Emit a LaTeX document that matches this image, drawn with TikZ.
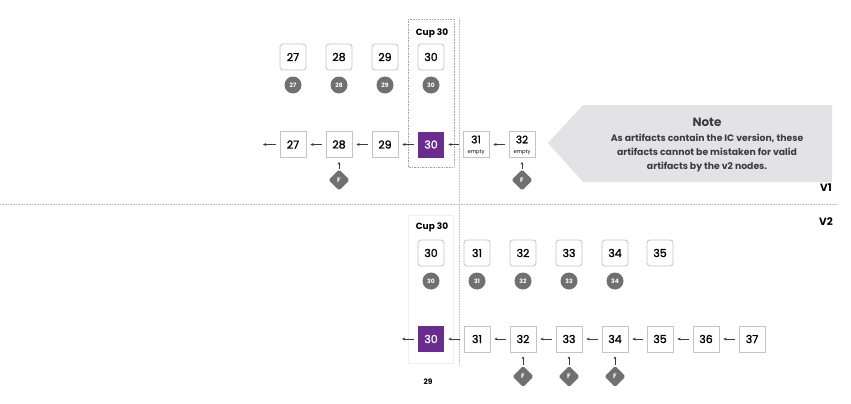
\documentclass[tikz,border=0pt]{standalone}
\usepackage{fontspec}
\setmainfont{Poppins}
\newfontfamily\medfont[FakeBold=1.3]{Poppins}
\usetikzlibrary{arrows.meta,shapes.geometric}
\definecolor{boxline}{HTML}{C4C4C4}
\definecolor{cupviolet}{HTML}{6A2C8E}
\definecolor{chipgray}{HTML}{707070}
\definecolor{notegray}{HTML}{E3E3E7}
\definecolor{inkgray}{HTML}{3C3C3C}
\tikzset{
  numbox/.style={draw=boxline, line width=0.8pt, fill=white, minimum width=26pt, minimum height=26pt, inner sep=0pt, font=\medfont\fontsize{11}{13}\selectfont, text=black},
  rbox/.style={numbox, rounded corners=3pt},
  purplebox/.style={numbox, draw=none, fill=cupviolet, text=white},
  chip/.style={circle, fill=chipgray, minimum size=17pt, inner sep=0pt, text=white, font=\fontsize{6}{6}\selectfont\bfseries},
  fdia/.style={diamond, fill=chipgray, minimum width=21pt, minimum height=21pt, inner sep=0pt, outer sep=0pt, rounded corners=1.5pt, text=white, font=\fontsize{6.5}{7}\selectfont\bfseries},
  arr/.style={-{Stealth[length=3.2pt,width=3pt]}, line width=0.7pt, draw=inkgray, shorten >=4pt, shorten <=4pt},
  farr/.style={-{Stealth[length=2.8pt,width=2.8pt]}, line width=0.6pt, draw=inkgray, shorten >=4pt, shorten <=1pt},
  dotline/.style={draw=gray!55, line width=0.7pt, dash pattern=on 0.8pt off 0.8pt},
  headlbl/.style={font=\fontsize{9}{11}\selectfont\bfseries, text=black},
}
\begin{document}
\begin{tikzpicture}[x=1pt,y=-1pt]
\useasboundingbox (0,0) rectangle (851,404);

% separators
\draw[dotline] (0,204) -- (837,204);
\draw[dotline] (459,18) -- (459,365);

% V1 cup frame
\draw[dotline, draw=gray!70] (408,19) rectangle (454,167);
\node[headlbl] (cup1) at (432,33) {Cup 30};

% V2 cup frame (faint)
\draw[draw=gray!12, line width=0.8pt] (408,215) rectangle (453,363);
\node[headlbl] (cup2) at (432,227) {Cup 30};

% ---------- V1 upper row ----------
\foreach \n/\x in {27/293,28/339,29/385,30/431}{
  \node[rbox] (u\n) at (\x,57) {\n};
  \node[chip] (c\n) at (\x,85) {\n};
}

% ---------- V1 lower row ----------
\node[numbox] (a27) at (293,144.5) {27};
\node[numbox] (a28) at (339,144.5) {28};
\node[numbox] (a29) at (385,144.5) {29};
\node[purplebox] (a30) at (431,144.5) {30};
\node[numbox] (a31) at (476,144.5) {};
\node[anchor=center, font=\medfont\fontsize{10.5}{12}\selectfont] (t31) at (476,139.5) {31};
\node[anchor=center, font=\fontsize{5.2}{6}\selectfont] (e31) at (476,152) {empty};
\node[numbox] (a32) at (522,144.5) {};
\node[anchor=center, font=\medfont\fontsize{10.5}{12}\selectfont] (t32) at (522,139.5) {32};
\node[anchor=center, font=\fontsize{5.2}{6}\selectfont] (e32) at (522,152) {empty};
\coordinate (a26) at (263,144.5);

\draw[arr, shorten >=0pt] (a27) -- (a26);
\draw[arr] (a28) -- (a27);
\draw[arr] (a29) -- (a28);
\draw[arr] (a30) -- (a29);
\draw[arr] (a31) -- (a30);
\draw[arr] (a32) -- (a31);

\node[fdia] (f28) at (339,180) {F};
\node[fdia] (f32) at (522,180) {F};
\draw[farr] (f28.north) -- (a28.south);
\draw[farr] (f32.north) -- (a32.south);

% Note
\fill[notegray] (548,143) -- (583,105) -- (832,105) -- (832,182) -- (583,182) -- cycle;
\node[font=\fontsize{12}{14}\selectfont\bfseries, text=inkgray] (notehead) at (707,122) {Note};
\node[font=\fontsize{9.3}{13.6}\selectfont\bfseries, text=inkgray, align=center, anchor=north] (notebody) at (707,131)
  {As artifacts contain the IC version, these\\artifacts cannot be mistaken for valid\\artifacts by the v2 nodes.};

\node[font=\fontsize{10.5}{12}\selectfont\bfseries] (v1) at (826,188) {V1};
\node[font=\fontsize{10.5}{12}\selectfont\bfseries] (v2) at (826,222) {V2};

% ---------- V2 upper row ----------
\foreach \n/\x in {30/431,31/477,32/523,33/569,34/615}{
  \node[rbox] (w\n) at (\x,253) {\n};
  \node[chip] (d\n) at (\x,281) {\n};
}
\node[rbox] (w35) at (660,253) {35};

% ---------- V2 lower row ----------
\node[purplebox] (b30) at (431,339) {30};
\foreach \n/\x in {31/477,32/523,33/569,34/615,35/660,36/706,37/752}{
  \node[numbox] (b\n) at (\x,339) {\n};
}
\coordinate (b29) at (402,339);
\draw[arr, shorten >=0pt] (b30) -- (b29);
\foreach \a/\b in {31/30,32/31,33/32,34/33,35/34,36/35,37/36}{
  \draw[arr] (b\a) -- (b\b);
}
\foreach \n/\x in {32/523,33/569,34/615}{
  \node[fdia] (g\n) at (\x,376.5) {F};
  \draw[farr] (g\n.north) -- (b\n.south);
}

\node[font=\fontsize{7.5}{9}\selectfont\bfseries] (lbl29) at (428,382) {29};
\end{tikzpicture}
\end{document}
